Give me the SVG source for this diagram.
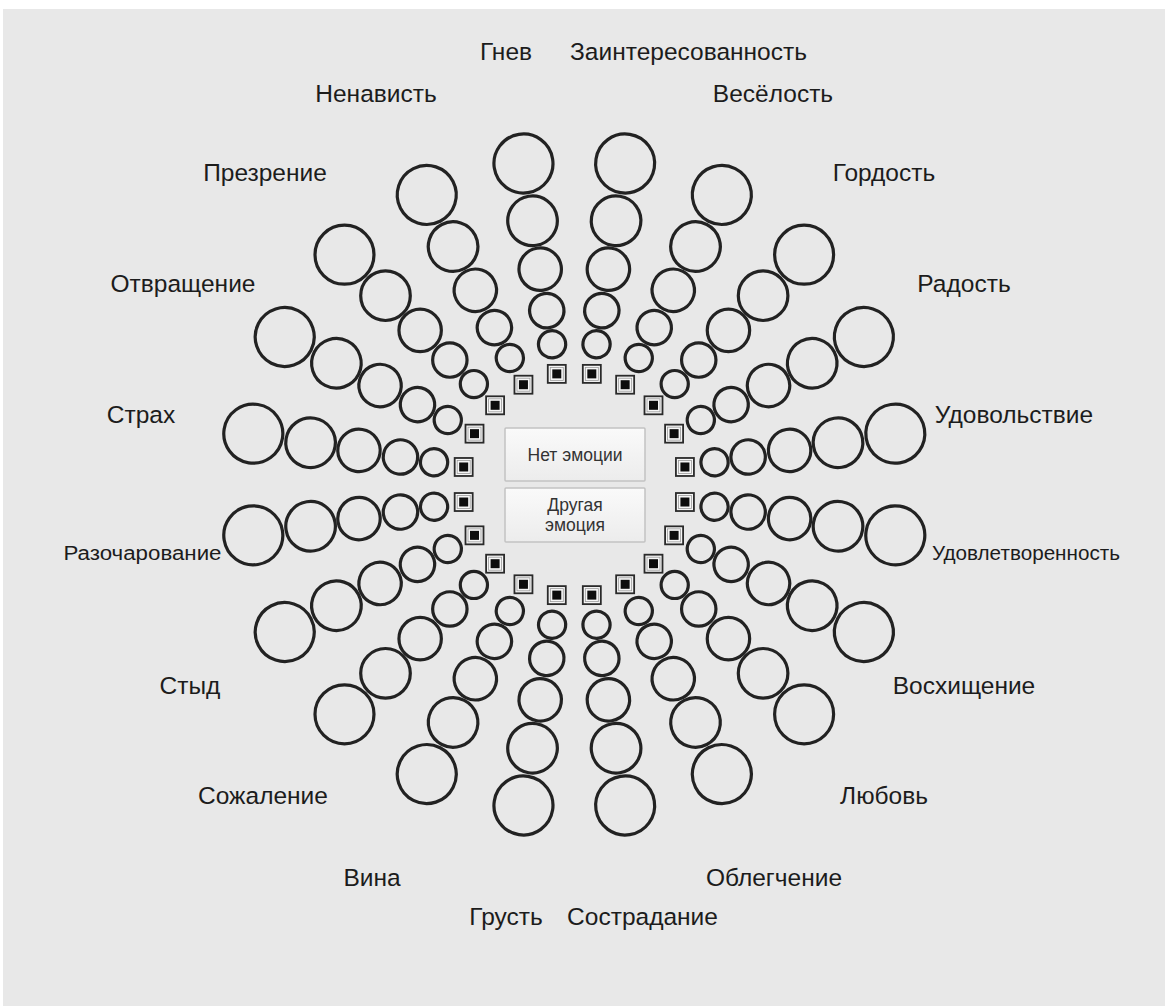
<svg xmlns="http://www.w3.org/2000/svg" xmlns:xlink="http://www.w3.org/1999/xlink" width="1165" height="1006" viewBox="0 0 1165 1006">
<style>
.lbl{font-family:"Liberation Sans",Arial,sans-serif;font-size:24.5px;fill:#1c1c1c;text-anchor:middle}
.sm{font-size:20px}
.box{fill:url(#boxg);stroke:#c2c2c2;stroke-width:1.5}
.boxt{font-family:"Liberation Sans",Arial,sans-serif;font-size:17.5px;fill:#333;text-anchor:middle}
.ring{fill:none;stroke:#222;stroke-width:3.2}
</style>
<defs>
<linearGradient id="boxg" x1="0" y1="0" x2="0" y2="1">
<stop offset="0" stop-color="#fafafa"/>
<stop offset="1" stop-color="#ececec"/>
</linearGradient>
<g id="rings">
<circle class="ring" cx="0" cy="-142" r="13.6"/>
<circle class="ring" cx="0" cy="-176" r="17.2"/>
<circle class="ring" cx="0" cy="-218" r="21.2"/>
<circle class="ring" cx="0" cy="-267" r="24.8"/>
<circle class="ring" cx="0" cy="-325" r="29.5"/>
</g>
<g id="sq">
<rect x="-9" y="-9" width="18" height="18" fill="#f6f6f6" stroke="#2a2a2a" stroke-width="1.8"/>
<rect x="-6.5" y="-6.5" width="13" height="13" fill="none" stroke="#9a9a9a" stroke-width="0.8"/>
<rect x="-4.5" y="-4.5" width="9" height="9" fill="#0d0d0d"/>
</g>
</defs>
<rect x="0" y="0" width="1165" height="1006" fill="#ffffff"/>
<rect x="3" y="9" width="1162" height="997" fill="#e8e8e8"/>

<g id="connectors"></g>

<g id="n-interest"><use xlink:href="#rings" transform="translate(574.3 484.5) rotate(9)"/><use xlink:href="#sq" transform="translate(574.3 484.5) rotate(9) translate(0 -112) rotate(-9)"/><text class="lbl" x="688.5" y="60">Заинтересованность</text></g>
<g id="n-amusement"><use xlink:href="#rings" transform="translate(574.3 484.5) rotate(27)"/><use xlink:href="#sq" transform="translate(574.3 484.5) rotate(27) translate(0 -112) rotate(-27)"/><text class="lbl" x="773" y="102">Весёлость</text></g>
<g id="n-pride"><use xlink:href="#rings" transform="translate(574.3 484.5) rotate(45)"/><use xlink:href="#sq" transform="translate(574.3 484.5) rotate(45) translate(0 -112) rotate(-45)"/><text class="lbl" x="884" y="181">Гордость</text></g>
<g id="n-joy"><use xlink:href="#rings" transform="translate(574.3 484.5) rotate(63)"/><use xlink:href="#sq" transform="translate(574.3 484.5) rotate(63) translate(0 -112) rotate(-63)"/><text class="lbl" x="964" y="292">Радость</text></g>
<g id="n-pleasure"><use xlink:href="#rings" transform="translate(574.3 484.5) rotate(81)"/><use xlink:href="#sq" transform="translate(574.3 484.5) rotate(81) translate(0 -112) rotate(-81)"/><text class="lbl" x="1014" y="423">Удовольствие</text></g>
<g id="n-contentment"><use xlink:href="#rings" transform="translate(574.3 484.5) rotate(99)"/><use xlink:href="#sq" transform="translate(574.3 484.5) rotate(99) translate(0 -112) rotate(-99)"/><text class="lbl sm" x="1026" y="560" textLength="188" lengthAdjust="spacingAndGlyphs">Удовлетворенность</text></g>
<g id="n-admiration"><use xlink:href="#rings" transform="translate(574.3 484.5) rotate(117)"/><use xlink:href="#sq" transform="translate(574.3 484.5) rotate(117) translate(0 -112) rotate(-117)"/><text class="lbl" x="964" y="694">Восхищение</text></g>
<g id="n-love"><use xlink:href="#rings" transform="translate(574.3 484.5) rotate(135)"/><use xlink:href="#sq" transform="translate(574.3 484.5) rotate(135) translate(0 -112) rotate(-135)"/><text class="lbl" x="884" y="804">Любовь</text></g>
<g id="n-relief"><use xlink:href="#rings" transform="translate(574.3 484.5) rotate(153)"/><use xlink:href="#sq" transform="translate(574.3 484.5) rotate(153) translate(0 -112) rotate(-153)"/><text class="lbl" x="774" y="886">Облегчение</text></g>
<g id="n-compassion"><use xlink:href="#rings" transform="translate(574.3 484.5) rotate(171)"/><use xlink:href="#sq" transform="translate(574.3 484.5) rotate(171) translate(0 -112) rotate(-171)"/><text class="lbl" x="642.5" y="925">Сострадание</text></g>
<g id="n-sadness"><use xlink:href="#rings" transform="translate(574.3 484.5) rotate(189)"/><use xlink:href="#sq" transform="translate(574.3 484.5) rotate(189) translate(0 -112) rotate(-189)"/><text class="lbl" x="506" y="925">Грусть</text></g>
<g id="n-guilt"><use xlink:href="#rings" transform="translate(574.3 484.5) rotate(207)"/><use xlink:href="#sq" transform="translate(574.3 484.5) rotate(207) translate(0 -112) rotate(-207)"/><text class="lbl" x="372" y="886">Вина</text></g>
<g id="n-regret"><use xlink:href="#rings" transform="translate(574.3 484.5) rotate(225)"/><use xlink:href="#sq" transform="translate(574.3 484.5) rotate(225) translate(0 -112) rotate(-225)"/><text class="lbl" x="263" y="804">Сожаление</text></g>
<g id="n-shame"><use xlink:href="#rings" transform="translate(574.3 484.5) rotate(243)"/><use xlink:href="#sq" transform="translate(574.3 484.5) rotate(243) translate(0 -112) rotate(-243)"/><text class="lbl" x="190" y="694">Стыд</text></g>
<g id="n-disappointment"><use xlink:href="#rings" transform="translate(574.3 484.5) rotate(261)"/><use xlink:href="#sq" transform="translate(574.3 484.5) rotate(261) translate(0 -112) rotate(-261)"/><text class="lbl sm" x="142.5" y="560" textLength="158" lengthAdjust="spacingAndGlyphs">Разочарование</text></g>
<g id="n-fear"><use xlink:href="#rings" transform="translate(574.3 484.5) rotate(279)"/><use xlink:href="#sq" transform="translate(574.3 484.5) rotate(279) translate(0 -112) rotate(-279)"/><text class="lbl" x="141" y="423">Страх</text></g>
<g id="n-disgust"><use xlink:href="#rings" transform="translate(574.3 484.5) rotate(297)"/><use xlink:href="#sq" transform="translate(574.3 484.5) rotate(297) translate(0 -112) rotate(-297)"/><text class="lbl" x="183" y="292">Отвращение</text></g>
<g id="n-contempt"><use xlink:href="#rings" transform="translate(574.3 484.5) rotate(315)"/><use xlink:href="#sq" transform="translate(574.3 484.5) rotate(315) translate(0 -112) rotate(-315)"/><text class="lbl" x="265" y="181">Презрение</text></g>
<g id="n-hate"><use xlink:href="#rings" transform="translate(574.3 484.5) rotate(333)"/><use xlink:href="#sq" transform="translate(574.3 484.5) rotate(333) translate(0 -112) rotate(-333)"/><text class="lbl" x="376" y="102">Ненависть</text></g>
<g id="n-anger"><use xlink:href="#rings" transform="translate(574.3 484.5) rotate(351)"/><use xlink:href="#sq" transform="translate(574.3 484.5) rotate(351) translate(0 -112) rotate(-351)"/><text class="lbl" x="506" y="60">Гнев</text></g>

<g id="n-none"><rect class="box" x="505" y="428" width="140" height="53" rx="1"/><text class="boxt" x="575" y="461">Нет эмоции</text></g>
<g id="n-other"><rect class="box" x="505" y="488" width="140" height="54" rx="1"/><text class="boxt" x="575" y="511">Другая</text><text class="boxt" x="575" y="531">эмоция</text></g>
</svg>
